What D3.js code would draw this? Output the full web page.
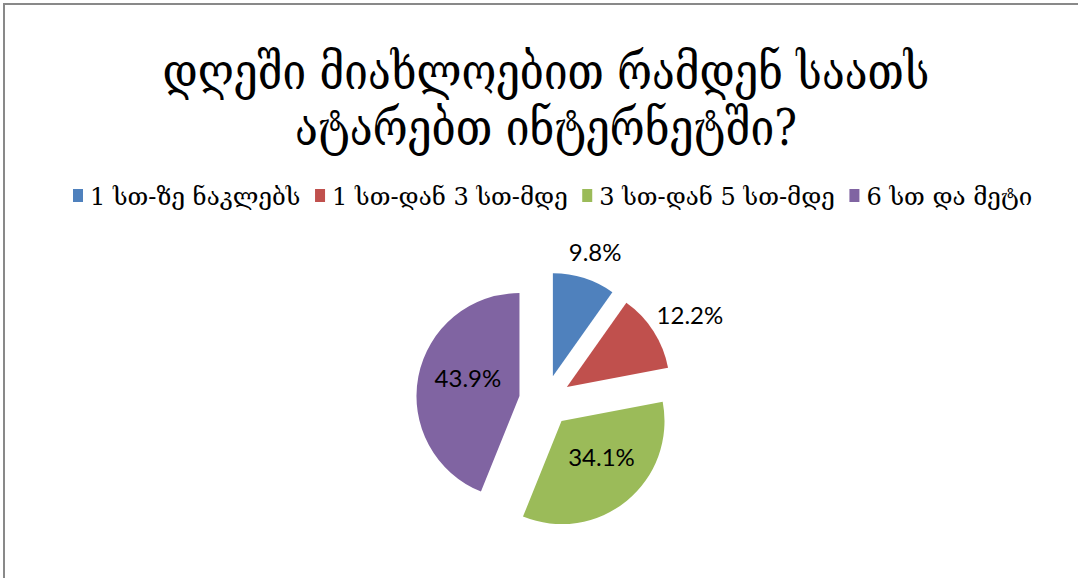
<!DOCTYPE html>
<html>
<head>
<meta charset="utf-8">
<script src="https://cdn.jsdelivr.net/npm/d3@7"></script>
<style>
  html, body { margin: 0; padding: 0; background: #fff; }
  svg { display: block; }
</style>
</head>
<body>
<svg id="chart" width="1078" height="578"></svg>
<script>
// Survey: roughly how many hours a day do you spend on the internet?
const titleLines = ["დღეში მიახლოებით რამდენ საათს", "ატარებთ ინტერნეტში?"];
const categories = ["1 სთ-ზე ნაკლებს", "1 სთ-დან 3 სთ-მდე", "3 სთ-დან 5 სთ-მდე", "6 სთ და მეტი"];
const shares = [9.8, 12.2, 34.1, 43.9];
const colors = ["#4F81BD", "#C0504D", "#9BBB59", "#8064A2"];

const W = 1078, H = 578;
const svg = d3.select("#chart");
const georgianFont = "'DejaVu Serif', serif";
const numberFont = "Lato, 'Open Sans', sans-serif";

// chart frame (only top and left edges fall inside the view)
svg.append("rect")
  .attr("x", 4).attr("y", 4)
  .attr("width", W + 20).attr("height", H + 20)
  .attr("fill", "none")
  .attr("stroke", "#898989")
  .attr("stroke-width", 2);

// title, two centred lines, each narrowed horizontally to its line width
const titleSpec = [
  { y: 89, width: 767 },
  { y: 145, width: 502 }
];
svg.append("g").selectAll("text")
  .data(titleLines)
  .join("text")
  .attr("x", 0)
  .attr("y", 0)
  .attr("text-anchor", "middle")
  .attr("font-family", georgianFont)
  .attr("font-size", 51)
  .attr("fill", "#000")
  .text(d => d)
  .each(function (d, i) {
    const sx = titleSpec[i].width / this.getComputedTextLength();
    d3.select(this).attr("transform", `translate(546,${titleSpec[i].y}) scale(${sx},1)`);
  });

// legend row
const legend = svg.append("g");
const swW = 10, swH = 13, swGap = 7, itemGap = 15;
const legendLeft = 73, legendRight = 1030, legendBaseline = 205;
const items = legend.selectAll("g")
  .data(categories)
  .join("g");
items.append("rect")
  .attr("width", swW).attr("height", swH)
  .attr("y", legendBaseline - 16)
  .attr("fill", (d, i) => colors[i]);
const labels = items.append("text")
  .attr("font-family", georgianFont)
  .attr("font-size", 25)
  .attr("fill", "#000")
  .text(d => d);
const widths = labels.nodes().map(n => n.getComputedTextLength());
const natural = d3.sum(widths) + categories.length * (swW + swGap) + (categories.length - 1) * itemGap;
const fit = (legendRight - legendLeft) / natural;
let cursor = legendLeft;
items.each(function (d, i) {
  const textW = widths[i] * fit;
  d3.select(this).attr("transform", `translate(${cursor},0)`);
  d3.select(this).select("text")
    .attr("transform", `translate(${swW + swGap},${legendBaseline}) scale(${fit},1)`);
  cursor += swW + swGap + textW + itemGap * fit;
});

// exploded pie
const cx = 545, cy = 401, R = 103, explode = 26;
const pie = d3.pie().sort(null).value(d => d)(shares);
const arc = d3.arc().innerRadius(0).outerRadius(R);
const dir = a => [Math.sin(a), -Math.cos(a)];

const slices = svg.append("g")
  .attr("transform", `translate(${cx},${cy})`)
  .selectAll("g")
  .data(pie)
  .join("g")
  .attr("transform", d => {
    const m = (d.startAngle + d.endAngle) / 2;
    const [ux, uy] = dir(m);
    return `translate(${ux * explode},${uy * explode})`;
  });

slices.append("path")
  .attr("d", arc)
  .attr("fill", (d, i) => colors[i]);

// value labels: inside the larger slices, just outside the small ones
slices.append("text")
  .attr("font-family", numberFont)
  .attr("font-size", 24)
  .attr("fill", "#000")
  .attr("text-anchor", "middle")
  .attr("dominant-baseline", "central")
  .text(d => d.data.toFixed(1) + "%")
  .each(function (d) {
    const m = (d.startAngle + d.endAngle) / 2;
    const [ux, uy] = dir(m);
    let x, y;
    if (d.data > 20) {
      x = ux * R * 0.55 + 4;
      y = uy * R * 0.55 - 8;
    } else {
      const bb = this.getBBox();
      x = ux * (R + 10) + ux * bb.width / 2;
      y = uy * (R + 10) + uy * bb.height / 2 - 3;
    }
    d3.select(this).attr("x", x).attr("y", y);
  });
</script>
</body>
</html>
